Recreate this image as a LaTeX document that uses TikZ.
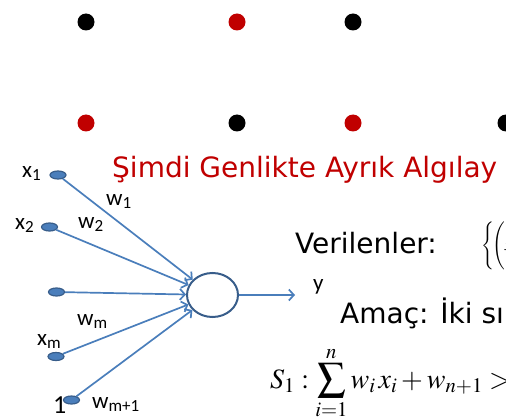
\documentclass[tikz,border=0pt]{standalone}
\usepackage{amsmath}
\usepackage{mathptmx}
\usepackage{fontspec}
\usetikzlibrary{arrows.meta, positioning, shapes.geometric}
\newfontfamily\slidefont{DejaVu Sans}
\newfontfamily\labelfont{Carlito}
\definecolor{myBlue}{HTML}{4A7EBB}
\definecolor{myNavy}{HTML}{385D8A}
\definecolor{myRed}{HTML}{C00000}

\begin{document}
\begin{tikzpicture}[x=1pt, y=-1pt,
dot/.style={circle, inner sep=0pt, minimum size=17pt},
input/.style={ellipse, draw=myNavy, fill=myBlue, line width=1.2pt, inner sep=0pt, minimum width=16pt, minimum height=8pt},
neuron/.style={ellipse, draw=myNavy, line width=2pt, inner sep=0pt, minimum width=51pt, minimum height=44pt},
arrow/.style={-{Straight Barb[length=5pt, width=11pt]}, myBlue, line width=1.7pt},
lbl/.style={anchor=base west, inner sep=0pt, font=\labelfont\fontsize{23}{27}\selectfont},
slide/.style={anchor=base west, inner sep=0pt, font=\slidefont\fontsize{28}{34}\selectfont}
]
\useasboundingbox (0,0) rectangle (506,417);
\clip (0,0) rectangle (506,417);

% point grid
\node[dot, fill=black] (p11) at (86,22) {};
\node[dot, fill=myRed] (p12) at (237,22) {};
\node[dot, fill=black] (p13) at (353,22) {};
\node[dot, fill=myRed] (p21) at (86,123) {};
\node[dot, fill=black] (p22) at (237,123) {};
\node[dot, fill=myRed] (p23) at (353,123) {};
\node[dot, fill=black] (p24) at (506,123) {};

\node[slide, text=myRed] (title) at (112,178) {Şimdi Genlikte Ayrık Algılay};

% perceptron
\node[input] (in1) at (58,175) {};
\node[input] (in2) at (49.5,227) {};
\node[input] (in3) at (56.5,292) {};
\node[input] (inm) at (56,356.5) {};
\node[input] (bias) at (71.5,400) {};
\node[neuron] (neuron) at (212.5,295) {};
\coordinate (out) at (295,295);

\draw[arrow] (in1) -- (neuron);
\draw[arrow] (in2) -- (neuron);
\draw[arrow] (in3) -- (neuron);
\draw[arrow] (inm) -- (neuron);
\draw[arrow] (bias) -- (neuron);
\draw[arrow] (neuron) -- (out);

\node[lbl] (x1) at (22,177) {x\textsubscript{1}};
\node[lbl] (x2) at (15,229) {x\textsubscript{2}};
\node[lbl] (xm) at (37,345) {x\textsubscript{m}};
\node[lbl, font=\labelfont\fontsize{26}{30}\selectfont] (one) at (53,413) {1};
\node[lbl] (w1) at (106,205) {w\textsubscript{1}};
\node[lbl] (w2) at (78,228) {w\textsubscript{2}};
\node[lbl] (wm) at (77,325) {w\textsubscript{m}};
\node[lbl] (wb) at (92,408) {w\textsubscript{m+1}};
\node[lbl] (y) at (313,290) {y};

% givens and goal
\node[slide] (given) at (295,253) {Verilenler:};
\node[anchor=west, inner sep=0pt, font=\fontsize{16}{19}\selectfont] (set) at (481,246) {$\Bigg\{\!\Bigg(x$};
\node[slide] (goal) at (340,323) {Amaç: İki sı};
\node[anchor=base west, inner sep=0pt, font=\fontsize{28}{33}\selectfont] (rule) at (270,388) {$\displaystyle S_1 : \sum_{i=1}^{n} w_i\, x_i + w_{n+1} >$};
\end{tikzpicture}
\end{document}
